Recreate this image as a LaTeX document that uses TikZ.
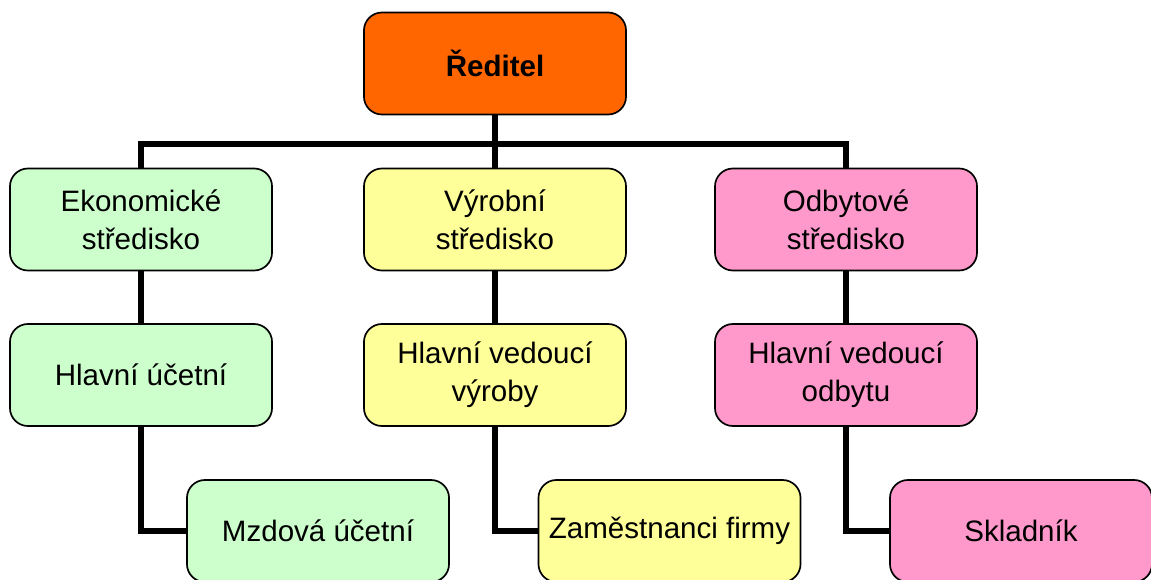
\documentclass[tikz,border=0pt]{standalone}
\usepackage{fontspec}
\setmainfont{Liberation Sans}
\usepackage{tikz}
\usetikzlibrary{positioning}
\definecolor{oranzova}{HTML}{FF6600}
\definecolor{zelena}{HTML}{CCFFCC}
\definecolor{zluta}{HTML}{FFFF99}
\definecolor{ruzova}{HTML}{FF99CC}

\begin{document}
\begin{tikzpicture}[x=0.025cm,y=-0.025cm,
  box/.style={rectangle,rounded corners=0.45cm,draw=black,line width=1.2pt,
    minimum width=6.55cm,minimum height=2.55cm,align=center,
    font=\fontsize{21}{27}\selectfont},
  conn/.style={line width=3.6pt,black}]
\clip (0,0) rectangle (1151,579);
% \draw[help lines] (0,0) grid (1151,579);
\node (red) [box,fill=oranzova,font=\fontsize{21}{27}\selectfont\bfseries] at (495,63.5) {Ředitel};
%
\node (eko) [box,fill=zelena] at (141,219.5) {Ekonomické\\středisko};
\node (vyr) [box,fill=zluta] at (495,219.5) {Výrobní\\středisko};
\node (odb) [box,fill=ruzova] at (846,219.5) {Odbytové\\středisko};
%
\node (uc) [box,fill=zelena] at (141,375) {Hlavní účetní};
\node (vv) [box,fill=zluta] at (495,375) {Hlavní vedoucí\\výroby};
\node (vo) [box,fill=ruzova] at (846,375) {Hlavní vedoucí\\odbytu};
%
\node (mzd) [box,fill=zelena] at (318,531) {Mzdová účetní};
\node (zam) [box,fill=zluta] at (669.5,531) {Zaměstnanci firmy};
\node (skl) [box,fill=ruzova] at (1021,531) {Skladník};
%
\coordinate (bus) at (495,144);
\draw[conn] (red.south) -- (vyr.north);
\draw[conn] (eko.north) |- (bus) -| (odb.north);
\draw[conn] (eko) -- (uc);
\draw[conn] (vyr) -- (vv);
\draw[conn] (odb) -- (vo);
\draw[conn] (uc.south) |- (mzd.west);
\draw[conn] (vv.south) |- (zam.west);
\draw[conn] (vo.south) |- (skl.west);
\end{tikzpicture}
\end{document}
